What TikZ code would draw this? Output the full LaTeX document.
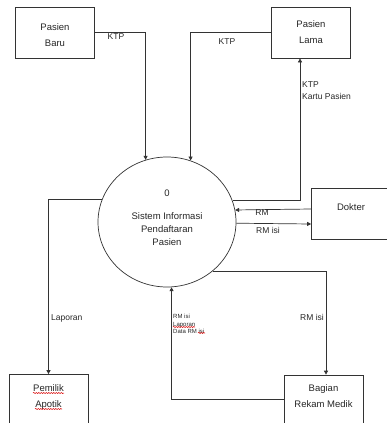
\documentclass[tikz,border=0pt]{standalone}
\usepackage{fontspec}
\setmainfont{Liberation Sans}
\usepackage{xcolor}
\usetikzlibrary{arrows.meta,shapes.geometric,decorations.pathmorphing}

\begin{document}
\begin{tikzpicture}[x=1pt, y=-1pt,
    every node/.style={text=black!85},
    entitas/.style={draw=black!80, line width=0.7pt, minimum width=79pt,
        minimum height=51pt, inner sep=0pt, align=center,
        font=\fontsize{9.5}{16}\selectfont},
    aliran/.style={draw=black!80, line width=0.7pt,
        -{Triangle[length=4pt,width=4pt]}},
    ket/.style={inner sep=0pt, font=\fontsize{8.5}{12}\selectfont},
    salah/.style={draw=red!85!black, line width=0.5pt, decorate,
        decoration={snake, amplitude=0.6pt, segment length=2.5pt}}]
    \useasboundingbox (0,0) rectangle (387,423);
    \node[entitas, text height=27.5pt] (baru) at (55,32.5) {Pasien\\Baru};
    \node[entitas] (lama) at (311,32.5) {Pasien\\Lama};
    \node[entitas, text depth=12pt] (dokter) at (351,213.5) {Dokter};
    \node[entitas, text depth=8pt] (pemilik) at (48.5,400) {Pemilik\\Apotik};
    \node[entitas, text depth=8pt] (bagian) at (323.5,400.5) {Bagian\\Rekam Medik};
    \node[ellipse, draw=black!80, line width=0.7pt, minimum width=138pt,
        minimum height=130pt, inner sep=0pt, align=center, text depth=9pt,
        font=\fontsize{9.5}{13}\selectfont] (proses) at (167,222)
        {0\\[10pt]Sistem Informasi\\Pendaftaran\\Pasien};
    \draw[aliran] (baru.east) -| (proses.109.65);
    \draw[aliran] (lama.west) -| (proses.69.4);
    \draw[aliran] (proses.18.7) -| ([xshift=-11pt]lama.south);
    \draw[aliran] ([yshift=4.5pt]dokter.west) -- (proses.10.9);
    \draw[aliran] (proses.-1.7) -- ([yshift=-10.5pt]dokter.west);
    \draw[aliran] (proses.161.3) -| (pemilik.north);
    \draw[aliran] (proses.-47.2) -| ([xshift=2.5pt]bagian.north);
    \draw[aliran] ([yshift=1.5pt]bagian.west) -| (proses.-86.5);
    \node[ket] (ktpbaru) at (116,37) {KTP};
    \node[ket] (ktplama) at (227,42) {KTP};
    \node[ket, anchor=west, align=left] (ktpkartu) at (302,91) {KTP\\Kartu Pasien};
    \node[ket] (rm) at (262,213) {RM};
    \node[ket] (rmisi) at (268,230) {RM isi};
    \node[ket, anchor=west] (laporan) at (51,318) {Laporan};
    \node[ket, anchor=east] (rmisibagian) at (324,317) {RM isi};
    \node[ket, anchor=north west, align=left, font=\fontsize{6}{6.5}\selectfont]
        (datarm) at (173,313.5) {RM isi\\[2pt]Laporan\\Data RM isi};
    \draw[salah] (33,393) -- (64,393);
    \draw[salah] (35,409) -- (62,409);
    \draw[salah] (173,327) -- (195,327);
    \draw[salah] (198,333) -- (205,333);
\end{tikzpicture}
\end{document}
